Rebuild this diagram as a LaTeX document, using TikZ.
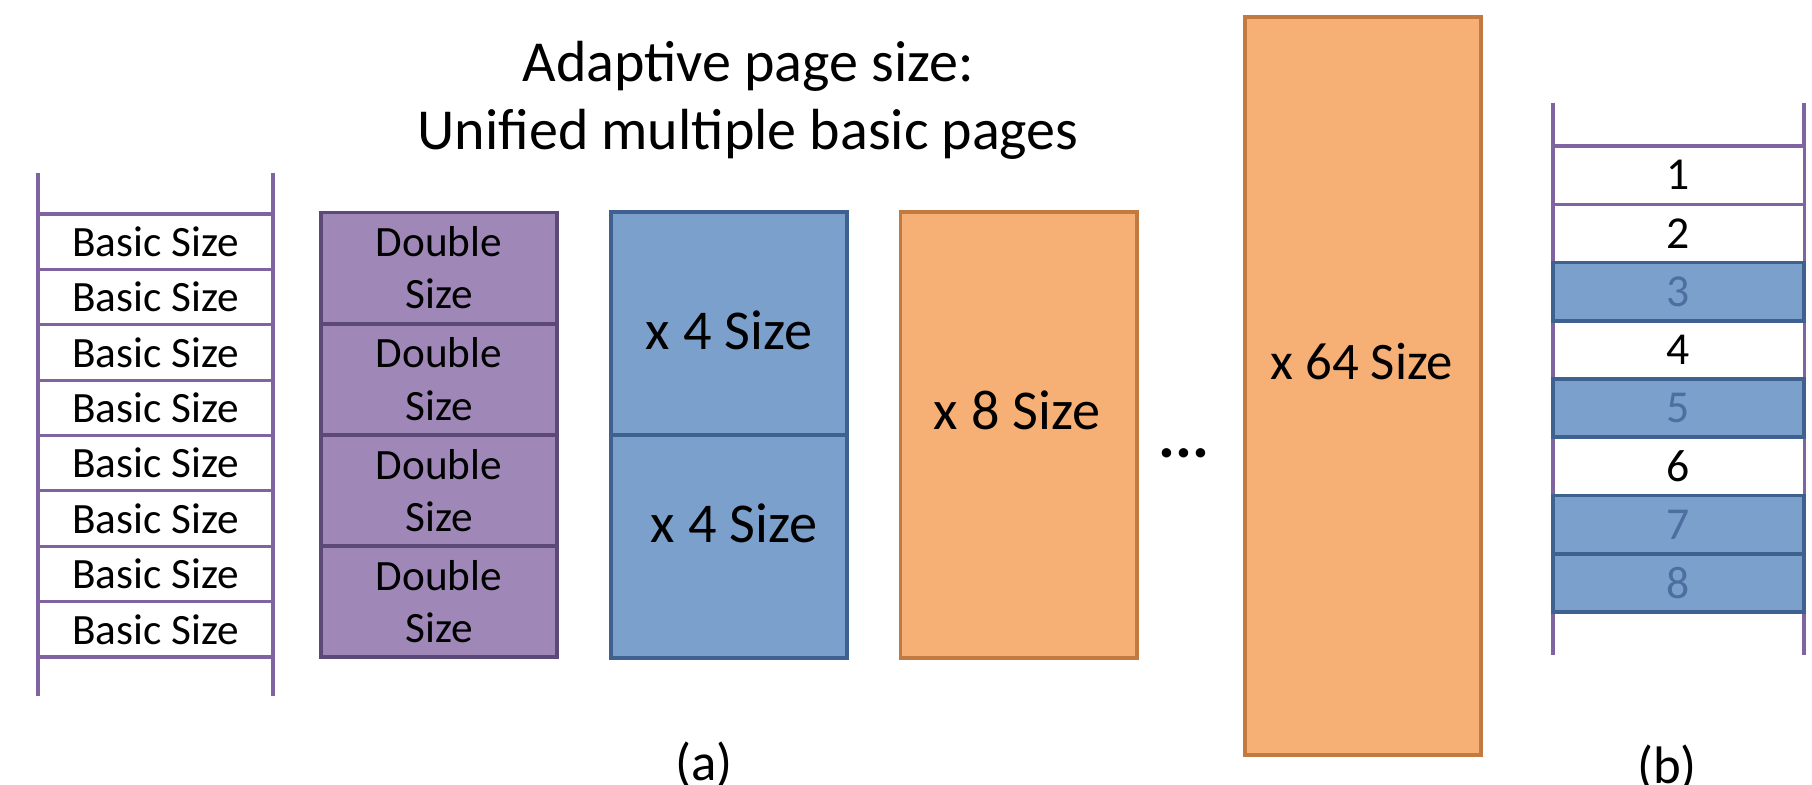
\documentclass[tikz,border=0pt]{standalone}
\usepackage{fontspec}
\setmainfont{Carlito}
\definecolor{railc}{RGB}{128,100,162}
\definecolor{dblfill}{RGB}{159,136,184}
\definecolor{dblline}{RGB}{93,72,122}
\definecolor{bluefill}{RGB}{124,160,204}
\definecolor{blueline}{RGB}{62,97,143}
\definecolor{orfill}{RGB}{246,175,116}
\definecolor{orline}{RGB}{194,122,64}
\definecolor{dimtext}{RGB}{78,110,160}
\tikzset{
  rail/.style={draw=railc, line width=0.9pt},
  basicrow/.style={draw=railc, line width=0.9pt, fill=white, minimum width=2.35cm, minimum height=0.554cm, inner sep=0pt, font=\fontsize{12.3}{14.8}\selectfont},
  dblbox/.style={draw=dblline, fill=dblfill, line width=1.1pt, minimum width=2.36cm, minimum height=1.111cm, inner sep=0pt, align=center, font=\fontsize{12.3}{14.8}\selectfont},
  bluebox/.style={draw=blueline, fill=bluefill, line width=1.1pt, minimum width=2.36cm, minimum height=2.23cm, inner sep=0pt},
  orbox/.style={draw=orline, fill=orfill, line width=1.1pt, minimum width=2.36cm, inner sep=0pt},
  bigtext/.style={inner sep=0pt, font=\fontsize{16}{18}\selectfont},
  numrow/.style={draw=railc, line width=0.9pt, fill=white, minimum width=2.51cm, minimum height=0.5825cm, inner sep=0pt, font=\fontsize{13}{15}\selectfont},
  numblue/.style={numrow, draw=blueline, fill=bluefill, line width=1.1pt, text=dimtext},
  titletext/.style={inner sep=0pt, anchor=base, font=\fontsize{16.5}{19.3}\selectfont},
  captext/.style={inner sep=0pt, anchor=base, font=\fontsize{15}{18}\selectfont}
}
\begin{document}
\begin{tikzpicture}[x=0.01cm, y=-0.01cm]
\useasboundingbox[fill=white] (0,0) rectangle (1812,785);

% title
\node[titletext] (title1) at (748,82) {Adaptive page size:};
\node[titletext] (title2) at (748,150) {Unified multiple basic pages};

% left ladder
\coordinate (llt) at (38,173);
\coordinate (llb) at (38,696);
\coordinate (lrt) at (273,173);
\coordinate (lrb) at (273,696);
\foreach \i in {1,...,8}{
  \node[basicrow] (b\i) at (155.5,{214+55.375*(\i-0.5)}) {Basic Size};
}
\draw[rail] (llt) -- (llb);
\draw[rail] (lrt) -- (lrb);

% double size
\foreach \i in {1,...,4}{
  \node[dblbox] (d\i) at (439,{212.5+111.1*(\i-0.5)}) {Double\\Size};
}

% x4 size
\node[bluebox] (q1) at (729,323.5) {};
\node[bluebox] (q2) at (729,546.5) {};
\node[bigtext] (q1t) at (729,330) {x 4 Size};
\node[bigtext] (q2t) at (734,523) {x 4 Size};

% x8 size
\node[orbox, minimum height=4.46cm] (e1) at (1018.5,435) {};
\node[bigtext] (e1t) at (1017,410) {x 8 Size};

% dots
\node[inner sep=0pt, font=\fontsize{18}{20}\selectfont\bfseries] (dots) at (1184,453) {...};

% x64 size
\node[orbox, minimum height=7.38cm] (s1) at (1363,386) {};
\node[inner sep=0pt, font=\fontsize{15}{18}\selectfont] (s1t) at (1362,362) {x 64 Size};

% right ladder
\coordinate (rlt) at (1553,103);
\coordinate (rlb) at (1553,655);
\coordinate (rrt) at (1804,103);
\coordinate (rrb) at (1804,655);
\draw[rail] (rlt) -- (rlb);
\draw[rail] (rrt) -- (rrb);
\node[numrow]  (n1) at (1678.5,175.1) {1};
\node[numrow]  (n2) at (1678.5,233.4) {2};
\node[numrow]  (n4) at (1678.5,349.9) {4};
\node[numrow]  (n6) at (1678.5,466.4) {6};
\node[numblue] (n3) at (1678.5,291.6) {3};
\node[numblue] (n5) at (1678.5,408.1) {5};
\node[numblue] (n7) at (1678.5,524.6) {7};
\node[numblue] (n8) at (1678.5,582.9) {8};

% captions
\node[captext] (capa) at (704,780) {(a)};
\node[captext] (capb) at (1667,783) {(b)};
\end{tikzpicture}
\end{document}
